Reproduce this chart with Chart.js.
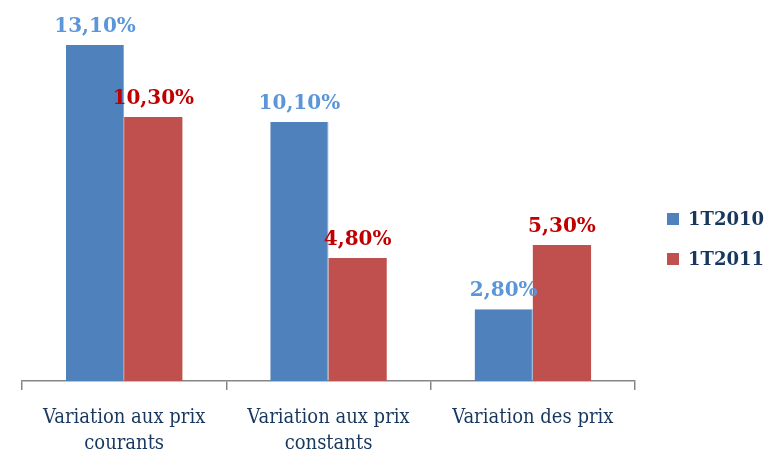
<!DOCTYPE html>
<html>
<head>
<meta charset="utf-8">
<script src="https://cdn.jsdelivr.net/npm/chart.js@4"></script>
<style>
  html, body { margin: 0; padding: 0; background: #fff; }
  #wrap { width: 767px; height: 451px; }
</style>
</head>
<body>
<div id="wrap"><canvas id="c"></canvas></div>
<script>
// Categories and series values (percent change)
const categories = [
  ["Variation aux prix", "courants"],
  ["Variation aux prix", "constants"],
  ["Variation des prix"]
];
const seriesNames = ["1T2010", "1T2011"];
const values2010 = [13.1, 10.1, 2.8];
const values2011 = [10.3, 4.8, 5.3];

const barColors = ["#4F81BD", "#C0504D"];
const labelColors = ["#5B96D9", "#C00000"];
const navy = "#17375E";

const fmt = v => v.toFixed(2).replace(".", ",") + "%";

// Value labels above each bar
const valueLabels = {
  id: "valueLabels",
  afterDatasetsDraw(chart) {
    const ctx = chart.ctx;
    ctx.save();
    ctx.font = "bold 20px 'DejaVu Serif'";
    ctx.textAlign = "center";
    ctx.textBaseline = "bottom";
    chart.data.datasets.forEach((ds, i) => {
      chart.getDatasetMeta(i).data.forEach((bar, j) => {
        ctx.fillStyle = labelColors[i];
        ctx.fillText(fmt(ds.data[j]), bar.x, bar.y - 8);
      });
    });
    ctx.restore();
  }
};

// Legend on the right side
const sideLegend = {
  id: "sideLegend",
  afterDraw(chart) {
    const ctx = chart.ctx;
    ctx.save();
    ctx.font = "bold 18px 'DejaVu Serif'";
    ctx.textBaseline = "middle";
    ctx.textAlign = "left";
    seriesNames.forEach((name, i) => {
      const cy = 219 + i * 40;
      ctx.fillStyle = barColors[i];
      ctx.fillRect(667, cy - 6, 12, 12);
      ctx.fillStyle = navy;
      ctx.fillText(name, 688, cy + 1);
    });
    ctx.restore();
  }
};

new Chart(document.getElementById("c"), {
  type: "bar",
  data: {
    labels: categories,
    datasets: [
      { label: seriesNames[0], data: values2010, backgroundColor: barColors[0], borderColor: "#7FA3D1", borderWidth: { right: 1 } },
      { label: seriesNames[1], data: values2011, backgroundColor: barColors[1], borderColor: "#D58A88", borderWidth: 0 }
    ]
  },
  options: {
    responsive: true,
    maintainAspectRatio: false,
    animation: false,
    events: [],
    layout: { padding: { left: 22, right: 132, top: 22, bottom: 0 } },
    datasets: { bar: { categoryPercentage: 0.57, barPercentage: 1.0 } },
    plugins: {
      legend: { display: false },
      tooltip: { enabled: false }
    },
    scales: {
      x: {
        offset: true,
        grid: {
          offset: true,
          drawOnChartArea: false,
          color: "#868686",
          lineWidth: 1.5,
          tickLength: 9
        },
        border: { color: "#868686", width: 1.5 },
        ticks: {
          color: navy,
          padding: 15,
          font: { family: "'DejaVu Serif Condensed', 'DejaVu Serif'", size: 20, lineHeight: 1.3 }
        },
        afterFit(scale) { scale.height = 70; }
      },
      y: {
        display: false,
        min: 0,
        max: 14
      }
    }
  },
  plugins: [valueLabels, sideLegend]
});
</script>
</body>
</html>
